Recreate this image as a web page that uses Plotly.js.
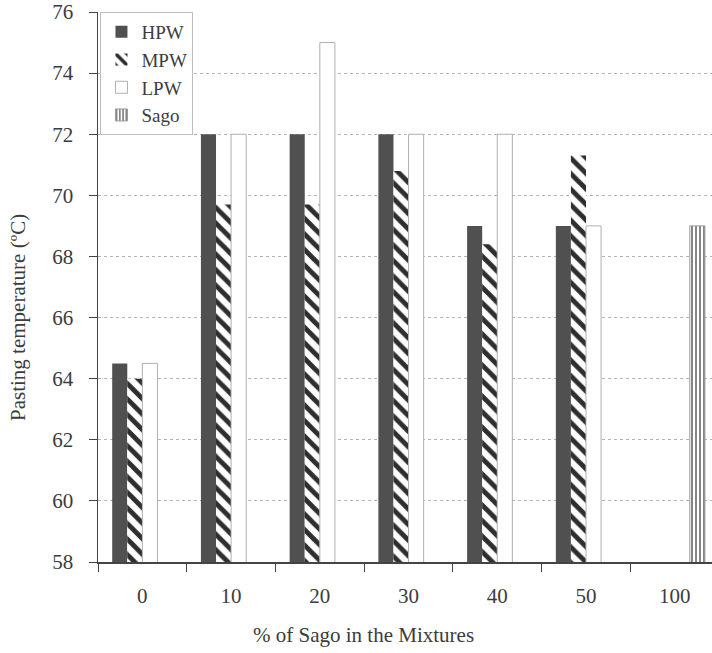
<!DOCTYPE html>
<html>
<head>
<meta charset="utf-8">
<script src="https://cdn.plot.ly/plotly-3.0.1.min.js"></script>
<style>
  html, body { margin: 0; padding: 0; background: #fff; }
  #chart { width: 712px; height: 653px; }
</style>
</head>
<body>
<div id="chart"></div>
<script>
// Pasting temperature of wheat flour / sago blends
const sagoLevels = ["0", "10", "20", "30", "40", "50", "100"];
const hpw  = [64.5, 72.0, 72.0, 72.0, 69.0, 69.0, null];
const mpw  = [64.0, 69.7, 69.7, 70.8, 68.4, 71.3, null];
const lpw  = [64.5, 72.0, 75.0, 72.0, 72.0, 69.0, null];
const sago = [null, null, null, null, null, null, 69.0];

const xTitle = "% of Sago in the Mixtures";
const yTitle = "Pasting temperature (ºC)";

const serif = "Liberation Serif, Times New Roman, serif";
const ink = "#3c3c3c";

const traces = [
  {
    name: "HPW", type: "bar", x: sagoLevels, y: hpw,
    marker: { color: "#505050", line: { width: 0 } }
  },
  {
    name: "MPW", type: "bar", x: sagoLevels, y: mpw,
    marker: {
      color: "#ffffff",
      line: { width: 0 },
      pattern: { shape: "\\", fgcolor: "#2e2e2e", bgcolor: "#ffffff", size: 11, solidity: 0.45 }
    }
  },
  {
    name: "LPW", type: "bar", x: sagoLevels, y: lpw,
    marker: { color: "#ffffff", line: { color: "#b0b0b0", width: 1 } }
  },
  {
    name: "Sago", type: "bar", x: sagoLevels, y: sago,
    marker: {
      color: "#ffffff",
      line: { color: "#9a9a9a", width: 1 },
      pattern: { shape: "|", fgcolor: "#333333", bgcolor: "#ffffff", size: 4, solidity: 0.3 }
    }
  }
];

const layout = {
  width: 712,
  height: 653,
  margin: { l: 98, r: 0, t: 12, b: 91 },
  paper_bgcolor: "#ffffff",
  plot_bgcolor: "#ffffff",
  barmode: "group",
  bargap: 0.32,
  bargroupgap: 0,
  font: { family: serif, color: ink, size: 20 },
  showlegend: true,
  legend: {
    x: 0.004, y: 1.0, xanchor: "left", yanchor: "top",
    bgcolor: "#ffffff", bordercolor: "#bdbdbd", borderwidth: 1,
    font: { family: serif, size: 19, color: ink },
    itemwidth: 30, tracegroupgap: 0
  },
  xaxis: {
    type: "category",
    range: [-0.5, 6.42],
    tickson: "boundaries",
    ticks: "outside",
    ticklen: 8,
    tickcolor: "#444",
    ticklabelstandoff: 14,
    showline: true,
    linecolor: "#444",
    linewidth: 1.5,
    showgrid: false,
    tickfont: { family: serif, size: 21, color: ink }
  },
  yaxis: {
    range: [58, 76],
    dtick: 2,
    tick0: 58,
    ticks: "outside",
    ticklen: 8,
    tickcolor: "#444",
    ticklabelstandoff: 11,
    showline: true,
    linecolor: "#444",
    linewidth: 1.5,
    showgrid: true,
    gridcolor: "#b4b4b4",
    griddash: "dot",
    gridwidth: 1,
    zeroline: false,
    tickfont: { family: serif, size: 21, color: ink }
  },
  // axis titles, placed in paper coordinates
  annotations: [
    {
      text: xTitle, xref: "paper", yref: "paper",
      x: 0.433, y: -0.133, xanchor: "center", yanchor: "middle",
      showarrow: false, font: { family: serif, size: 21, color: ink }
    },
    {
      text: yTitle, xref: "paper", yref: "paper",
      x: -0.13, y: 0.444, xanchor: "center", yanchor: "middle",
      textangle: -90, showarrow: false, font: { family: serif, size: 21, color: ink }
    }
  ]
};

Plotly.newPlot("chart", traces, layout, { displayModeBar: false, staticPlot: true });
</script>
</body>
</html>
